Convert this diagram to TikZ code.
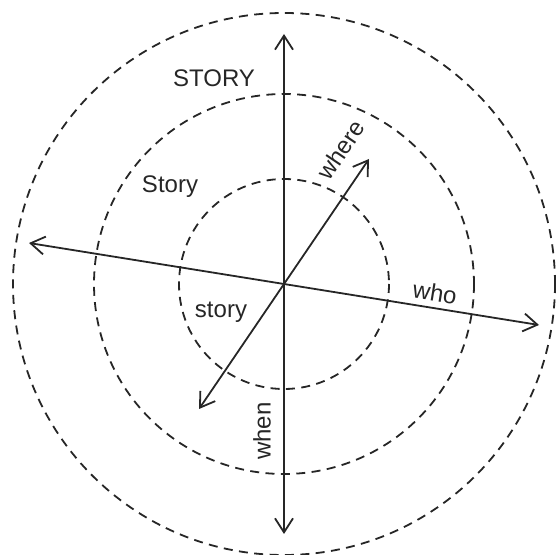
\documentclass[tikz,border=0pt]{standalone}
\usepackage{fontspec}
\setmainfont{Liberation Sans}
\usetikzlibrary{arrows.meta}

\tikzset{
  axis/.style={line width=0.9pt, black!85, {Straight Barb[length=7pt,width=9pt]}-{Straight Barb[length=7pt,width=9pt]}},
  ring/.style={line width=0.9pt, black!85, dash pattern=on 4.5pt off 3.2pt},
  lbl/.style={font=\fontsize{12}{14}\selectfont, inner sep=0pt, black!85}
}

\begin{document}
\begin{tikzpicture}[x=0.5pt,y=-0.5pt]
\useasboundingbox (0,0) rectangle (557,555);
% Levels of story
\coordinate (c) at (284,284);
\foreach \r in {105,190,271} {
  \draw[ring] (c) circle (\r);
}
% Axis ends
\coordinate (top) at (284,34);
\coordinate (bottom) at (284,534);
\coordinate (left) at (29,243);
\coordinate (right) at (539,325);
\coordinate (sw) at (199,409);
\coordinate (ne) at (369,159);
% Axes
\draw[axis] (bottom) -- (top);
\draw[axis] (left) -- (right);
\draw[axis] (sw) -- (ne);
% Labels
\node[lbl] (big) at (214,78) {STORY};
\node[lbl] (mid) at (170,187) {Story};
\node[lbl] (small) at (221,312) {story};
\node[lbl, rotate=56] (where) at (341,150) {where};
\node[lbl, rotate=-9.2] (who) at (435,293) {who};
\node[lbl, rotate=90] (when) at (262,431) {when};
\end{tikzpicture}
\end{document}
